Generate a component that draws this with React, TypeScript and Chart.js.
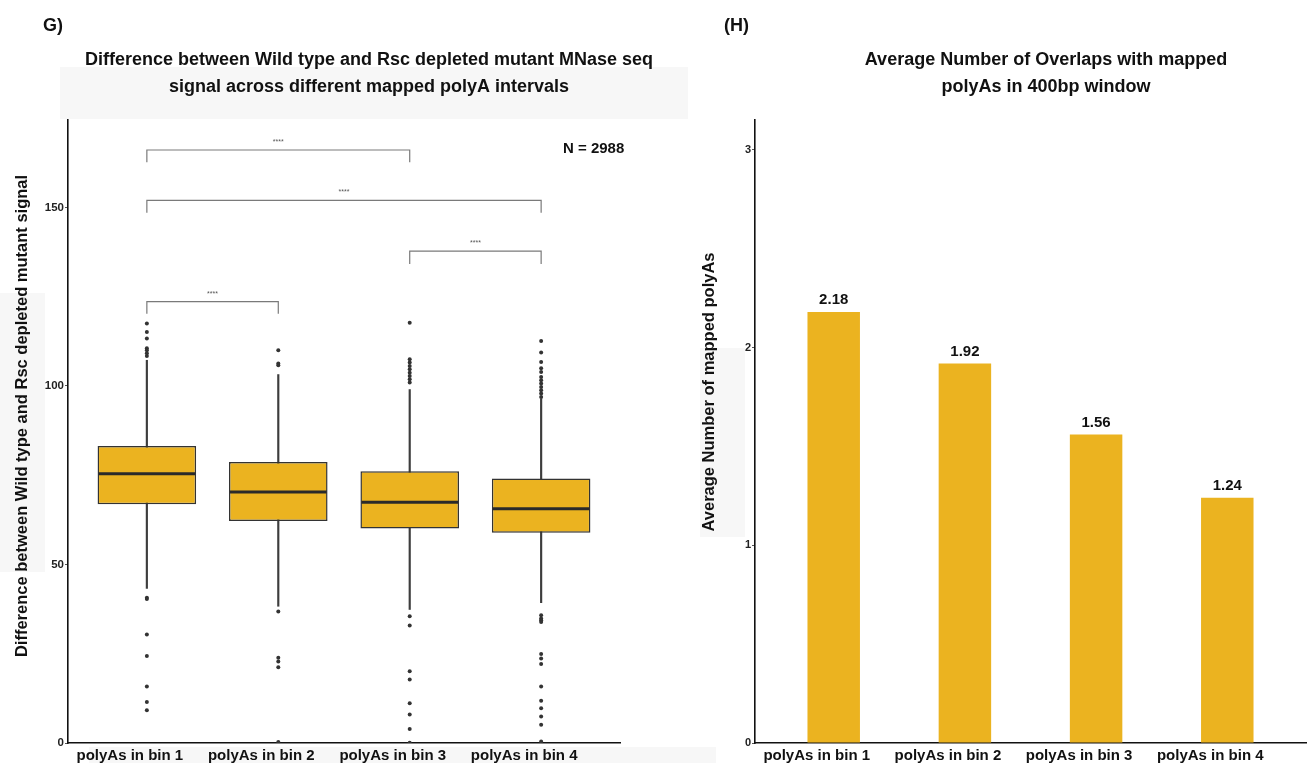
import React, { useEffect, useRef } from 'react';
import { Chart, registerables } from 'chart.js';

Chart.register(...registerables);

const FONT = '"Liberation Sans", Arial, Helvetica, sans-serif';
Chart.defaults.font.family = FONT;

// ---------- data ----------
const categories = ['polyAs in bin 1', 'polyAs in bin 2', 'polyAs in bin 3', 'polyAs in bin 4'];
const binPositions = [1, 2, 3, 4];

// Panel G (box plot)
const boxQ1 = [66.9, 62.2, 60.1, 58.9];
const boxMedian = [75.4, 70.3, 67.4, 65.6];
const boxQ3 = [83.2, 78.7, 76.1, 74.1];
const whiskerLow = [43.3, 38.3, 37.4, 39.3];
const whiskerHigh = [107.2, 103.2, 99.0, 96.4];
const outliersBin1 = [117.5, 115.1, 113.3, 110.6, 110.0, 109.2, 108.4, 40.7, 40.3, 30.4, 24.4, 15.8, 11.5, 9.2];
const outliersBin2 = [110.0, 106.3, 105.8, 36.8, 23.9, 22.8, 21.2, 0.3];
const outliersBin3 = [117.7, 107.5, 106.6, 105.6, 104.7, 103.7, 102.8, 101.9, 101.0, 35.5, 32.9, 20.1, 17.8, 11.1, 8.0, 3.9, 0.1];
const outliersBin4 = [112.6, 109.4, 106.7, 105.0, 103.9, 102.5, 101.6, 100.7, 99.7, 98.8, 97.9, 96.9, 35.8, 34.9, 34.4, 33.9, 24.9, 23.7, 22.1, 15.8, 11.8, 9.7, 7.4, 5.1, 0.4];
const outlierGroups = [outliersBin1, outliersBin2, outliersBin3, outliersBin4];
const leftYTicks = [0, 50, 100, 150];
const leftYMax = 174.5;

const sigFrom = [1, 1, 3, 1];
const sigTo = [3, 4, 4, 2];
const sigTop = [166.1, 152.0, 137.8, 123.6];
const sigLegBottom = [162.7, 148.5, 134.2, 120.2];
const sigLabels = ['****', '****', '****', '****'];
const sampleSizeLabel = 'N = 2988';

const leftPanelLabel = 'G)';
const leftTitleLines = ['Difference between Wild type and Rsc depleted mutant MNase seq', 'signal across different mapped polyA intervals'];
const leftYTitle = 'Difference between Wild type and Rsc depleted mutant signal';

// Panel H (bar chart)
const overlapMeans = [2.18, 1.92, 1.56, 1.24];
const rightYTicks = [0, 1, 2, 3];
const rightYMax = 3.151;
const rightPanelLabel = '(H)';
const rightTitleLines = ['Average Number of Overlaps with mapped', 'polyAs in 400bp window'];
const rightYTitle = 'Average Number of mapped polyAs';

// ---------- styles ----------
const FILL = '#EBB320';
const DARK = '#333333';

type TextItem = { text: string; x: number; y: number; size: number; align?: CanvasTextAlign; rotate?: boolean; color?: string; weight?: string };

const textPlugin = (items: TextItem[]) => ({
  id: 'extraText',
  afterDraw(chart: any) {
    const ctx = chart.ctx;
    items.forEach((it) => {
      ctx.save();
      ctx.font = `${it.weight ?? 'bold'} ${it.size}px ${FONT}`;
      ctx.fillStyle = it.color ?? '#111';
      ctx.textAlign = it.align ?? 'center';
      ctx.textBaseline = 'middle';
      ctx.translate(it.x, it.y);
      if (it.rotate) ctx.rotate(-Math.PI / 2);
      ctx.fillText(it.text, 0, 0);
      ctx.restore();
    });
  },
});

const xScaleCommon = (ticksCb: (v: number) => string) => ({
  type: 'linear' as const,
  min: 0.4,
  max: 4.6,
  offset: false,
  afterBuildTicks: (scale: any) => {
    scale.ticks = binPositions.map((v) => ({ value: v }));
  },
  afterFit: (scale: any) => {
    scale.height = 20;
  },
  grid: { display: false, drawTicks: false },
  border: { display: true, color: '#111', width: 1.6 },
  ticks: {
    callback: (v: any) => ticksCb(Number(v)),
    autoSkip: false,
    maxRotation: 0,
    minRotation: 0,
    padding: 4,
    labelOffset: -17,
    color: '#111',
    font: { size: 15, weight: 'bold' as const },
  },
});

const labelFor = (v: number) => {
  const i = binPositions.indexOf(v);
  return i >= 0 ? categories[i] : '';
};

export default function App() {
  const leftRef = useRef<HTMLCanvasElement>(null);
  const rightRef = useRef<HTMLCanvasElement>(null);

  useEffect(() => {
    if (!leftRef.current) return;
    const boxExtras = {
      id: 'boxExtras',
      afterDatasetsDraw(chart: any) {
        const { ctx } = chart;
        const x = chart.scales.x;
        const y = chart.scales.y;
        const meta = chart.getDatasetMeta(1);
        ctx.save();
        meta.data.forEach((el: any, i: number) => {
          const p = el.getProps(['x', 'width'], true);
          const py = y.getPixelForValue(boxMedian[i]);
          ctx.strokeStyle = '#2a2a2a';
          ctx.lineWidth = 3;
          ctx.beginPath();
          ctx.moveTo(p.x - p.width / 2 + 1, py);
          ctx.lineTo(p.x + p.width / 2 - 1, py);
          ctx.stroke();
        });
        sigFrom.forEach((f, i) => {
          const x1 = x.getPixelForValue(f);
          const x2 = x.getPixelForValue(sigTo[i]);
          const yt = y.getPixelForValue(sigTop[i]);
          const yb = y.getPixelForValue(sigLegBottom[i]);
          ctx.strokeStyle = '#7a7a7a';
          ctx.lineWidth = 1.2;
          ctx.beginPath();
          ctx.moveTo(x1, yb);
          ctx.lineTo(x1, yt);
          ctx.lineTo(x2, yt);
          ctx.lineTo(x2, yb);
          ctx.stroke();
          ctx.font = `7px ${FONT}`;
          ctx.fillStyle = '#555';
          ctx.textAlign = 'center';
          ctx.textBaseline = 'middle';
          ctx.fillText(sigLabels[i], (x1 + x2) / 2, yt - 8);
        });
        ctx.restore();
      },
    };
    const outlierPoints: { x: number; y: number }[] = [];
    outlierGroups.forEach((g, i) => g.forEach((v) => outlierPoints.push({ x: binPositions[i], y: v })));

    const chart = new Chart(leftRef.current, {
      type: 'bar',
      data: {
        datasets: [
          {
            type: 'bar',
            data: binPositions.map((p, i) => ({ x: p, y: [whiskerLow[i], whiskerHigh[i]] })) as any,
            backgroundColor: '#3d3d3d',
            borderWidth: 0,
            barThickness: 1.5,
            grouped: false,
            order: 3,
          } as any,
          {
            type: 'bar',
            data: binPositions.map((p, i) => ({ x: p, y: [boxQ1[i], boxQ3[i]] })) as any,
            backgroundColor: FILL,
            borderColor: DARK,
            borderWidth: 1.5,
            borderSkipped: false,
            categoryPercentage: 1,
            barPercentage: 0.75,
            grouped: false,
            order: 2,
          } as any,
          {
            type: 'scatter',
            data: outlierPoints,
            pointRadius: 2,
            pointBackgroundColor: DARK,
            pointBorderWidth: 0,
            order: 1,
          } as any,
        ],
      },
      options: {
        animation: false,
        responsive: false,
        devicePixelRatio: 1,
        layout: { padding: { top: 120, right: 60, bottom: 0, left: 0 } },
        plugins: { legend: { display: false }, tooltip: { enabled: false } },
        scales: {
          x: xScaleCommon(labelFor) as any,
          y: {
            type: 'linear',
            min: 0,
            max: leftYMax,
            afterBuildTicks: (scale: any) => {
              scale.ticks = leftYTicks.map((v) => ({ value: v }));
            },
            afterFit: (scale: any) => {
              scale.width = 68;
            },
            grid: { drawOnChartArea: false, drawTicks: true, tickLength: 3, color: '#555' },
            border: { display: true, color: '#111', width: 1.6 },
            ticks: { padding: 1, color: '#222', font: { size: 11.5, weight: 'bold' } },
          },
        },
      },
      plugins: [
        boxExtras,
        textPlugin([
          { text: leftPanelLabel, x: 43, y: 26, size: 18, align: 'left' },
          { text: leftTitleLines[0], x: 369, y: 60, size: 18 },
          { text: leftTitleLines[1], x: 369, y: 87, size: 18 },
          { text: sampleSizeLabel, x: 563, y: 149, size: 15, align: 'left' },
          { text: leftYTitle, x: 22, y: 416, size: 16.5, rotate: true },
        ]),
      ],
    });
    return () => chart.destroy();
  }, []);

  useEffect(() => {
    if (!rightRef.current) return;
    const valueLabels = {
      id: 'valueLabels',
      afterDatasetsDraw(chart: any) {
        const { ctx } = chart;
        const meta = chart.getDatasetMeta(0);
        ctx.save();
        ctx.font = `bold 15px ${FONT}`;
        ctx.fillStyle = '#111';
        ctx.textAlign = 'center';
        ctx.textBaseline = 'middle';
        meta.data.forEach((el: any, i: number) => {
          const p = el.getProps(['x', 'y'], true);
          ctx.fillText(overlapMeans[i].toFixed(2), p.x, p.y - 12);
        });
        ctx.restore();
      },
    };
    const chart = new Chart(rightRef.current, {
      type: 'bar',
      data: {
        datasets: [
          {
            data: binPositions.map((p, i) => ({ x: p, y: overlapMeans[i] })) as any,
            backgroundColor: FILL,
            borderWidth: 0,
            categoryPercentage: 1,
            barPercentage: 0.4,
          },
        ],
      },
      options: {
        animation: false,
        responsive: false,
        devicePixelRatio: 1,
        layout: { padding: { top: 120, right: 3, bottom: 0, left: 0 } },
        plugins: { legend: { display: false }, tooltip: { enabled: false } },
        scales: {
          x: xScaleCommon(labelFor) as any,
          y: {
            type: 'linear',
            min: 0,
            max: rightYMax,
            afterBuildTicks: (scale: any) => {
              scale.ticks = rightYTicks.map((v) => ({ value: v }));
            },
            afterFit: (scale: any) => {
              scale.width = 75;
            },
            grid: { drawOnChartArea: false, drawTicks: true, tickLength: 3, color: '#555' },
            border: { display: true, color: '#111', width: 1.6 },
            ticks: { padding: 1, color: '#222', font: { size: 11, weight: 'bold' } },
          },
        },
      },
      plugins: [
        valueLabels,
        textPlugin([
          { text: rightPanelLabel, x: 44, y: 26, size: 18, align: 'left' },
          { text: rightTitleLines[0], x: 366, y: 60, size: 18 },
          { text: rightTitleLines[1], x: 366, y: 87, size: 18 },
          { text: rightYTitle, x: 29.5, y: 392, size: 16.5, rotate: true },
        ]),
      ],
    });
    return () => chart.destroy();
  }, []);

  const bg = '#f7f7f7';
  return (
    <div style={{ position: 'absolute', left: 0, top: 0, width: 1309, height: 763, background: '#fff', overflow: 'hidden' }}>
      <div style={{ position: 'absolute', left: 60, top: 67, width: 628, height: 52, background: bg }} />
      <div style={{ position: 'absolute', left: 0, top: 293, width: 45, height: 279, background: bg }} />
      <div style={{ position: 'absolute', left: 89, top: 747, width: 627, height: 16, background: bg }} />
      <div style={{ position: 'absolute', left: 700, top: 348, width: 45, height: 189, background: bg }} />
      <canvas ref={leftRef} width={680} height={763} style={{ position: 'absolute', left: 0, top: 0 }} />
      <canvas ref={rightRef} width={629} height={763} style={{ position: 'absolute', left: 680, top: 0 }} />
    </div>
  );
}
